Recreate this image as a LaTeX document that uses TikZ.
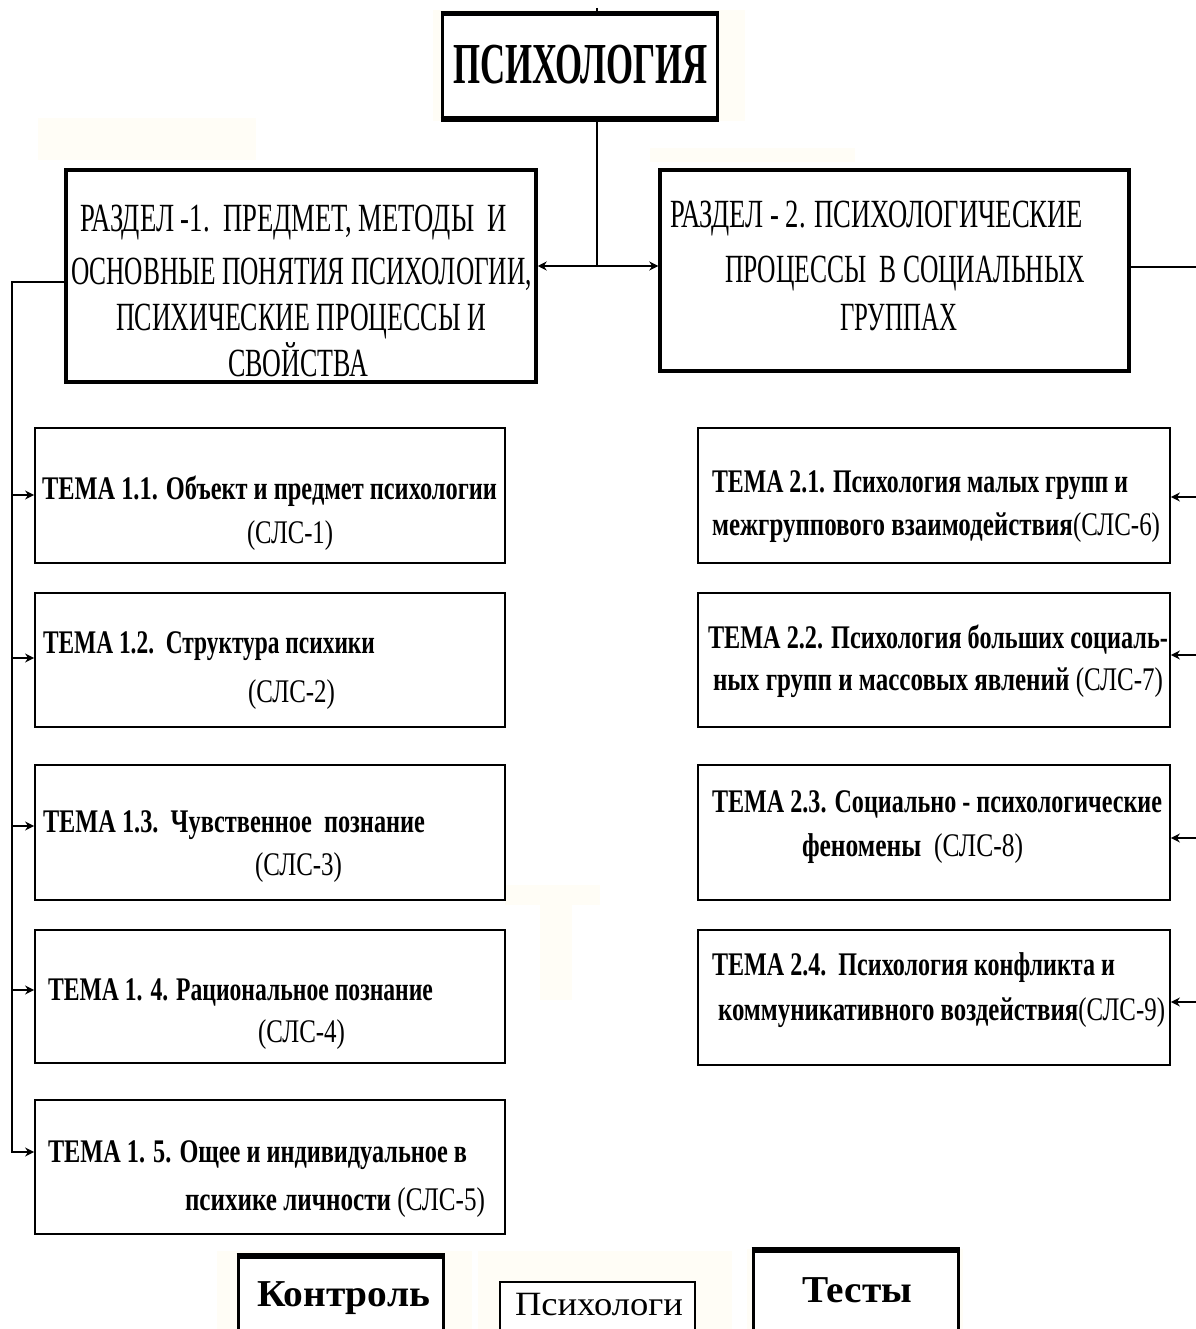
\documentclass[tikz,border=0pt]{standalone}
\usepackage{fontspec}
\setmainfont{Liberation Serif}
\usepackage{graphicx}
\usetikzlibrary{arrows.meta,calc}
\definecolor{cream}{RGB}{255,253,246}
\tikzset{
  tl/.style={anchor=base west, inner sep=0pt, outer sep=0pt},
  tbox/.style={draw, rectangle, line width=1.8pt, inner sep=0pt},
  rbox/.style={draw, rectangle, line width=3.5pt, inner sep=0pt},
  conn/.style={line width=1.5pt},
  arr/.style={conn, -{Stealth[length=9pt,width=9pt]}},
  temafont/.style={font=\fontsize{33}{35}\selectfont},
  razfont/.style={font=\fontsize{40}{42}\selectfont},
}
\newcommand\fitw[2]{\resizebox{#1pt}{\height}{#2}}
\begin{document}
\begin{tikzpicture}[x=1pt,y=-1pt]
\useasboundingbox (0,0) rectangle (1195,1329);
\fill[white] (0,0) rectangle (1195,1329);
% faint background patches
\fill[cream] (433,10) rectangle (745,121);
\fill[cream] (38,118) rectangle (256,160);
\fill[cream] (650,148) rectangle (855,162);
\fill[cream] (217,1251) rectangle (472,1329);
\fill[cream] (478,1251) rectangle (732,1329);
\fill[cream] (747,1249) rectangle (963,1329);
\fill[cream] (505,885) rectangle (600,905);
\fill[cream] (540,905) rectangle (572,1000);

% main box
\node[draw, fill=white, rectangle, line width=3pt, inner sep=0pt, minimum width=275pt, minimum height=103pt] (psy) at (579.5,66.5) {};
\draw[line width=5pt] (psy.north west) -- (psy.north east);
\draw[line width=5pt] (psy.south west) -- (psy.south east);
\node[tl, font=\bfseries\fontsize{58}{60}\selectfont] (psyt) at (453,84) {\fitw{255}{ПСИХОЛОГИЯ}};

% section boxes
\node[rbox, minimum width=470pt, minimum height=212pt] (r1) at (301,276) {};
\node[rbox, minimum width=469pt, minimum height=201pt] (r2) at (894.5,270.5) {};
\node[tl, razfont] (r1a) at (80,232) {\fitw{427}{РАЗДЕЛ -1.\ \ ПРЕДМЕТ, МЕТОДЫ\ \ И}};
\node[tl, razfont] (r1b) at (71,284) {\fitw{461}{ОСНОВНЫЕ ПОНЯТИЯ ПСИХОЛОГИИ,}};
\node[tl, razfont] (r1c) at (116,330) {\fitw{370}{ПСИХИЧЕСКИЕ ПРОЦЕССЫ И}};
\node[tl, razfont] (r1d) at (228,376) {\fitw{140}{СВОЙСТВА}};
\node[tl, razfont] (r2a) at (670,228) {\fitw{413}{РАЗДЕЛ - 2. ПСИХОЛОГИЧЕСКИЕ}};
\node[tl, razfont] (r2b) at (725,283) {\fitw{360}{ПРОЦЕССЫ\ \ В СОЦИАЛЬНЫХ}};
\node[tl, razfont] (r2c) at (840,330) {\fitw{117}{ГРУППАХ}};

% left topics
\node[tbox, minimum width=470pt, minimum height=135pt] (t11) at (270,495.5) {};
\node[tbox, minimum width=470pt, minimum height=134pt] (t12) at (270,660) {};
\node[tbox, minimum width=470pt, minimum height=135pt] (t13) at (270,832.5) {};
\node[tbox, minimum width=470pt, minimum height=133pt] (t14) at (270,996.5) {};
\node[tbox, minimum width=470pt, minimum height=134pt] (t15) at (270,1167) {};

\node[tl, temafont] (t11a) at (42,499) {\fitw{455}{\bfseries ТЕМА 1.1. Объект и предмет психологии}};
\node[tl, temafont] (t11b) at (247,543) {\fitw{86}{(СЛС-1)}};
\node[tl, temafont] (t12a) at (43,653) {\fitw{332}{\bfseries ТЕМА 1.2.\ \ Структура психики}};
\node[tl, temafont] (t12b) at (248,702) {\fitw{87}{(СЛС-2)}};
\node[tl, temafont] (t13a) at (43,832) {\fitw{382}{\bfseries ТЕМА 1.3.\ \ Чувственное\ \ познание}};
\node[tl, temafont] (t13b) at (255,875) {\fitw{87}{(СЛС-3)}};
\node[tl, temafont] (t14a) at (48,1000) {\fitw{385}{\bfseries ТЕМА 1. 4. Рациональное познание}};
\node[tl, temafont] (t14b) at (258,1042) {\fitw{87}{(СЛС-4)}};
\node[tl, temafont] (t15a) at (48,1162) {\fitw{419}{\bfseries ТЕМА 1. 5. Ощее и индивидуальное в}};
\node[tl, temafont] (t15b) at (185,1210) {\fitw{300}{{\bfseries психике личности} (СЛС-5)}};

% right topics
\node[tbox, minimum width=472pt, minimum height=135pt] (t21) at (934,495.5) {};
\node[tbox, minimum width=472pt, minimum height=134pt] (t22) at (934,660) {};
\node[tbox, minimum width=472pt, minimum height=135pt] (t23) at (934,832.5) {};
\node[tbox, minimum width=472pt, minimum height=135pt] (t24) at (934,997.5) {};

\node[tl, temafont] (t21a) at (712,492) {\fitw{416}{\bfseries ТЕМА 2.1. Психология малых групп и}};
\node[tl, temafont] (t21b) at (712,535) {\fitw{448}{{\bfseries межгруппового взаимодействия}(СЛС-6)}};
\node[tl, temafont] (t22a) at (708,648) {\fitw{460}{\bfseries ТЕМА 2.2. Психология больших социаль-}};
\node[tl, temafont] (t22b) at (713,690) {\fitw{450}{{\bfseries ных групп и массовых явлений} (СЛС-7)}};
\node[tl, temafont] (t23a) at (712,812) {\fitw{450}{\bfseries ТЕМА 2.3. Социально - психологические}};
\node[tl, temafont] (t23b) at (802,856) {\fitw{221}{{\bfseries феномены}\ \ (СЛС-8)}};
\node[tl, temafont] (t24a) at (712,975) {\fitw{403}{\bfseries ТЕМА 2.4.\ \ Психология конфликта и}};
\node[tl, temafont] (t24b) at (718,1020) {\fitw{447}{{\bfseries коммуникативного воздействия}(СЛС-9)}};

% bottom boxes
\node[draw, fill=white, rectangle, line width=3pt, inner sep=0pt, minimum width=205pt, minimum height=86pt] (kon) at (340.5,1300) {};
\draw[line width=5pt] (kon.north west) -- (kon.north east);
\node[draw, fill=white, rectangle, line width=2pt, inner sep=0pt, minimum width=195pt, minimum height=60pt] (psb) at (597.5,1312) {};
\node[draw, fill=white, rectangle, line width=3pt, inner sep=0pt, minimum width=205pt, minimum height=92pt] (tes) at (855.5,1297) {};
\draw[line width=5pt] (tes.north west) -- (tes.north east);
\node[tl, font=\bfseries\fontsize{38}{40}\selectfont] (kont) at (257,1306) {\fitw{173}{Контроль}};
\node[tl, font=\fontsize{34}{36}\selectfont] (psbt) at (515,1315) {\fitw{168}{Психологи}};
\node[tl, font=\bfseries\fontsize{38}{40}\selectfont] (test) at (802,1302) {\fitw{110}{Тесты}};

% connectors
\coordinate (ptop) at (597,8);
\coordinate (junc) at (597,266);
\draw[conn] (ptop) -- (ptop |- psy.north);
\draw[conn] (psy.south -| junc) -- (junc);
\draw[arr] (junc) -- (junc -| r1.east);
\draw[arr] (junc) -- (junc -| r2.west);

\coordinate (lb0) at (12,282);
\coordinate (l1) at (12,495);
\coordinate (l2) at (12,658);
\coordinate (l3) at (12,826);
\coordinate (l4) at (12,990);
\coordinate (l5) at (12,1152);
\draw[arr] (r1.west |- lb0) -- (lb0) -- (l5) -- (l5 -| t15.west);
\draw[arr] (l1) -- (l1 -| t11.west);
\draw[arr] (l2) -- (l2 -| t12.west);
\draw[arr] (l3) -- (l3 -| t13.west);
\draw[arr] (l4) -- (l4 -| t14.west);

\coordinate (rb0) at (1200,267);
\coordinate (q1) at (1200,497);
\coordinate (q2) at (1200,655);
\coordinate (q3) at (1200,838);
\coordinate (q4) at (1200,1002);
\draw[conn] (r2.east |- rb0) -- (rb0) -- (q4);
\draw[arr] (q1) -- (q1 -| t21.east);
\draw[arr] (q2) -- (q2 -| t22.east);
\draw[arr] (q3) -- (q3 -| t23.east);
\draw[arr] (q4) -- (q4 -| t24.east);
\end{tikzpicture}
\end{document}
